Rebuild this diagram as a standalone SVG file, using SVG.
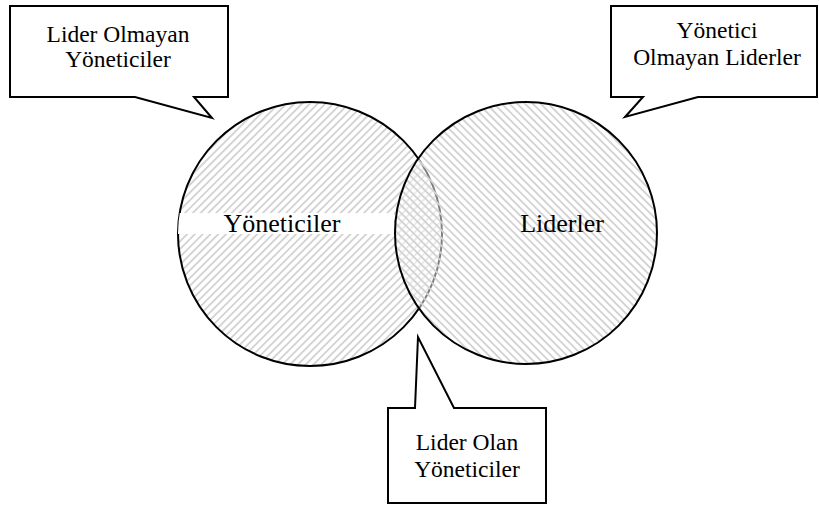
<svg xmlns="http://www.w3.org/2000/svg" width="819" height="506" viewBox="0 0 819 506">
<style>
.box{fill:#fff;stroke:#000;stroke-width:2;stroke-linejoin:miter}
.circ{stroke:#000;stroke-width:2}
.t{font-family:"Liberation Serif","Times New Roman",serif;fill:#000;text-anchor:middle}
.big{font-size:26px}
.small{font-size:23.5px}
</style>
<defs>
<pattern id="hatchL" patternUnits="userSpaceOnUse" width="5.5" height="6" patternTransform="rotate(45)">
<rect width="5.5" height="6" fill="#fff"/>
<rect x="0" y="0" width="1.8" height="6" fill="#d2d2d2"/>
</pattern>
<pattern id="hatchR" patternUnits="userSpaceOnUse" width="5.5" height="6" patternTransform="rotate(-45)">
<rect width="5.5" height="6" fill="#fff" fill-opacity="0.5"/>
<rect x="0" y="0" width="1.8" height="6" fill="#d2d2d2"/>
</pattern>
<clipPath id="clipL"><circle cx="310" cy="234" r="132"/></clipPath>
</defs>
<rect width="819" height="506" fill="#fff"/>
<g id="yoneticiler">
<circle class="circ" cx="310" cy="234" r="132" fill="url(#hatchL)"/>
<rect x="170" y="213" width="224" height="21" fill="#fff" clip-path="url(#clipL)"/>
<text class="t big" x="282" y="232">Yöneticiler</text>
</g>
<g id="liderler">
<circle class="circ" cx="526" cy="233" r="131" fill="url(#hatchR)"/>
<text class="t big" x="562" y="232">Liderler</text>
</g>
<g id="connectors"></g>
<g id="callout-lider-olmayan">
<polygon class="box" points="10,6 228,6 228,97 194,97 212,118 135,97 10,97"/>
<text class="t small" x="118" y="42">Lider Olmayan</text>
<text class="t small" x="118" y="67">Yöneticiler</text>
</g>
<g id="callout-yonetici-olmayan">
<polygon class="box" points="611,6 817,6 817,97 698,97 625,117 643,97 611,97"/>
<text class="t small" x="717" y="38">Yönetici</text>
<text class="t small" x="717" y="65">Olmayan Liderler</text>
</g>
<g id="callout-lider-olan">
<polygon class="box" points="388,408 415,408 418,337 454,408 546,408 546,503 388,503"/>
<text class="t small" x="467" y="450">Lider Olan</text>
<text class="t small" x="467" y="477">Yöneticiler</text>
</g>
</svg>
